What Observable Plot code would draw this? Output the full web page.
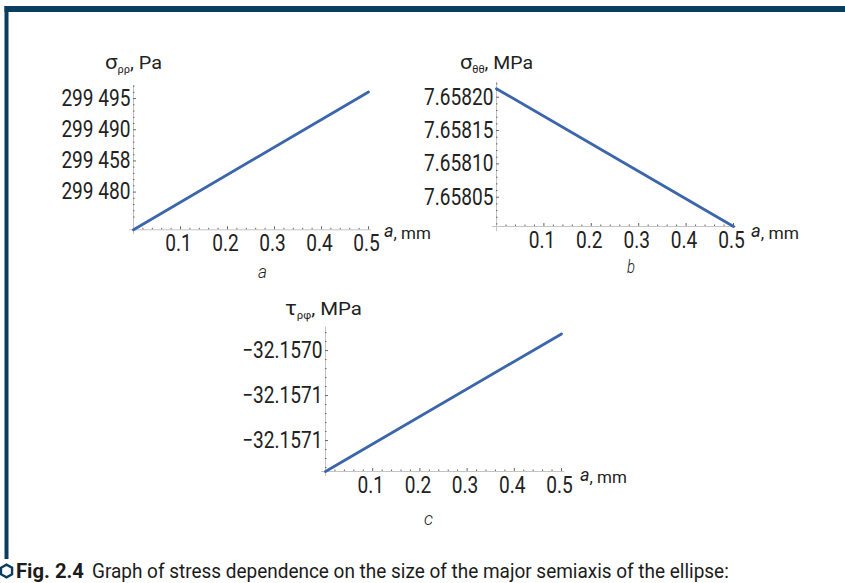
<!DOCTYPE html>
<html><head><meta charset="utf-8">
<script src="https://cdn.jsdelivr.net/npm/d3@7"></script>
<script src="https://cdn.jsdelivr.net/npm/@observablehq/plot@0.6"></script>
<style>
html,body{margin:0;padding:0;background:#fff;}
#page{position:relative;width:845px;height:583px;overflow:hidden;background:#fff;}
#page > svg{position:absolute;overflow:visible;}
</style></head><body><div id="page"></div>
<script>
// ---- data ----
const aValues = [0, 0.5];                         // a, mm
const sigmaRR = [299473.95, 299496.06];           // σρρ, Pa
const sigmaTT = [7.6582126, 7.6580061];           // σθθ, MPa
const tauRF   = [-32.1571344, -32.1569815];       // τρφ, MPa
const xTicks = [0.1, 0.2, 0.3, 0.4, 0.5];
const xTickLabels = ["0.1", "0.2", "0.3", "0.4", "0.5"];
const sigmaRRTicks = [299480, 299485, 299490, 299495];
const sigmaRRTickLabels = ["299 480", "299 458", "299 490", "299 495"];
const sigmaTTTicks = [7.65805, 7.6581, 7.65815, 7.6582];
const sigmaTTTickLabels = ["7.65805", "7.65810", "7.65815", "7.65820"];
const tauRFTicks = [-32.1571, -32.15705, -32.157];
const tauRFTickLabels = ["\u221232.1571", "\u221232.1571", "\u221232.1570"];

const LINE = "#3c66ab", AXIS = "#c4c4c4", TICK = "#666", INK = "#222", FRAME = "#0b3d5e";
const CONDENSE = 0.83;
const page = document.getElementById("page");
const NS = "http://www.w3.org/2000/svg";

function minorTicks(d0, d1, step, majorStep) {
  const out = [];
  const k0 = Math.ceil(d0 / step - 1e-9), k1 = Math.floor(d1 / step + 1e-9);
  for (let k = k0; k <= k1; k++) {
    const v = k * step;
    const r = v / majorStep;
    if (Math.abs(r - Math.round(r)) > 1e-6) out.push(+v.toPrecision(12));
  }
  return out;
}
const xMinor = minorTicks(0.001, 0.5, 0.02, 0.1);

function panel(cfg) {
  const y0 = cfg.yDomain[0], y1 = cfg.yDomain[1];
  const data = aValues.map((a, i) => ({a, v: cfg.values[i]}));
  const plot = Plot.plot({
    width: cfg.width, height: cfg.height,
    marginLeft: cfg.ml, marginRight: cfg.mr, marginTop: cfg.mt, marginBottom: cfg.mb,
    x: {domain: [0, 0.5]},
    y: {domain: cfg.yDomain},
    style: {fontFamily: "Roboto", fontSize: "23px", color: INK, background: "transparent", overflow: "visible"},
    marks: [
      Plot.ruleY([y0], {x1: 0, x2: 0.5, stroke: AXIS, strokeWidth: 1, insetLeft: -4, insetRight: -3}),
      Plot.ruleX([0], {y1: y1, y2: y0, stroke: AXIS, strokeWidth: 1, insetBottom: -5}),
      Plot.ruleX(xMinor, {x: d => d, y1: y0, y2: y0, insetBottom: 1.5, stroke: TICK, strokeWidth: 1}),
      Plot.ruleX(xTicks, {x: d => d, y1: y0, y2: y0, insetBottom: 3, stroke: TICK, strokeWidth: 1}),
      Plot.ruleY(cfg.yMinor, {y: d => d, x1: 0, x2: 0, insetRight: -1.5, stroke: TICK, strokeWidth: 1}),
      Plot.ruleY(cfg.yTicks, {y: d => d, x1: 0, x2: 0, insetRight: -3, stroke: TICK, strokeWidth: 1}),
      Plot.axisX({ticks: xTicks, tickFormat: d => xTickLabels[xTicks.indexOf(d)], tickSize: 0, tickPadding: 5, dx: -2,
        label: null, fill: INK, fontSize: 23, fontFamily: "Roboto"}),
      Plot.axisY({ticks: cfg.yTicks, tickFormat: d => cfg.yLabels[cfg.yTicks.indexOf(d)], tickSize: 0, tickPadding: 3,
        label: null, fill: INK, fontSize: 23, fontFamily: "Roboto"}),
      Plot.line(data, {x: "a", y: "v", stroke: LINE, strokeWidth: 2.8})
    ]
  });
  plot.style.left = cfg.left + "px";
  plot.style.top = cfg.top + "px";
  page.appendChild(plot);
  plot.querySelectorAll("text").forEach(t => {
    const w = t.getComputedTextLength();
    t.setAttribute("textLength", (w * CONDENSE).toFixed(2));
    t.setAttribute("lengthAdjust", "spacingAndGlyphs");
  });
}

// overlay svg: frame, axis titles, panel letters, caption
const ov = document.createElementNS(NS, "svg");
ov.setAttribute("width", 845); ov.setAttribute("height", 583);
ov.style.left = "0px"; ov.style.top = "0px";
page.appendChild(ov);
function el(name, attrs, parent = ov) {
  const e = document.createElementNS(NS, name);
  for (const k in attrs) e.setAttribute(k, attrs[k]);
  parent.appendChild(e);
  return e;
}
el("rect", {x: 4.5, y: 6, width: 841, height: 6, fill: FRAME});
el("rect", {x: 4.5, y: 6, width: 4, height: 553, fill: FRAME});

// text fitted between x0 and x1 at a baseline
function fitText(parts, x0, x1, baseline, size, extra = {}) {
  const t = el("text", Object.assign({"font-family": "Roboto", "font-size": size, fill: INK}, extra));
  for (const p of parts) {
    const s = el("tspan", p.attrs || {}, t);
    s.textContent = p.text;
  }
  const w = t.getBBox().width;
  const f = (x1 - x0) / w;
  t.setAttribute("transform", `translate(${x0},${baseline}) scale(${f.toFixed(4)},1)`);
  return t;
}
function yTitle(sym, sub, unit, x0, x1, baseline) {
  fitText([
    {text: sym, attrs: {"font-size": 20}},
    {text: sub, attrs: {"font-size": 10, dy: 4}},
    {text: ", " + unit, attrs: {dy: -4}}
  ], x0, x1, baseline, 18);
}
function xTitle(x0, x1, baseline) {
  fitText([{text: "a", attrs: {"font-style": "italic", "font-size": 18, dy: -2}}, {text: ", mm", attrs: {dy: 2}}], x0, x1, baseline, 17);
}
function letter(ch, x0, x1, baseline) {
  fitText([{text: ch}], x0, x1, baseline, 18, {"font-style": "italic", "font-weight": 300});
}

panel({values: sigmaRR, yDomain: [299473.95, 299497.1], yTicks: sigmaRRTicks, yLabels: sigmaRRTickLabels,
  yMinor: minorTicks(299474, 299497, 1, 5), left: 0, top: 0, width: 440, height: 300, ml: 133, mr: 72, mt: 85, mb: 70.7});
panel({values: sigmaTT, yDomain: [7.6580061, 7.6582225], yTicks: sigmaTTTicks, yLabels: sigmaTTTickLabels,
  yMinor: minorTicks(7.65801, 7.65822, 0.00001, 0.00005), left: 420, top: 0, width: 425, height: 300, ml: 76, mr: 112, mt: 81.7, mb: 74});
panel({values: tauRF, yDomain: [-32.1571344, -32.156974], yTicks: tauRFTicks, yLabels: tauRFTickLabels,
  yMinor: minorTicks(-32.15713, -32.15698, 0.00001, 0.00005), left: 200, top: 290, width: 445, height: 250, ml: 125, mr: 84, mt: 36.7, mb: 69});

yTitle("\u03c3", "\u03c1\u03c1", "Pa", 105, 162, 69);
yTitle("\u03c3", "\u03b8\u03b8", "MPa", 460, 533, 69);
yTitle("\u03c4", "\u03c1\u03c6", "MPa", 285, 362, 315);
xTitle(384, 431, 239);
xTitle(751, 799, 239);
xTitle(580, 627, 483);
letter("a", 258, 267, 278);
letter("b", 627, 635, 273);
letter("c", 424, 433, 525);

// caption
const hx = 6.5, hy = 571, hr = 6.4;
const pts = d3.range(6).map(k => {
  const ang = Math.PI / 6 + k * Math.PI / 3;
  return [hx + hr * Math.cos(ang), hy + hr * Math.sin(ang)].map(v => v.toFixed(2)).join(",");
}).join(" ");
el("polygon", {points: pts, fill: "none", stroke: FRAME, "stroke-width": 2.4});
fitText([{text: "Fig. 2.4"}], 16, 84, 578, 20, {"font-weight": 700, fill: "#1b1b1b"});
fitText([{text: "Graph of stress dependence on the size of the major semiaxis of the ellipse:"}], 92, 729, 578, 20, {fill: "#1b1b1b"});
</script></body></html>
